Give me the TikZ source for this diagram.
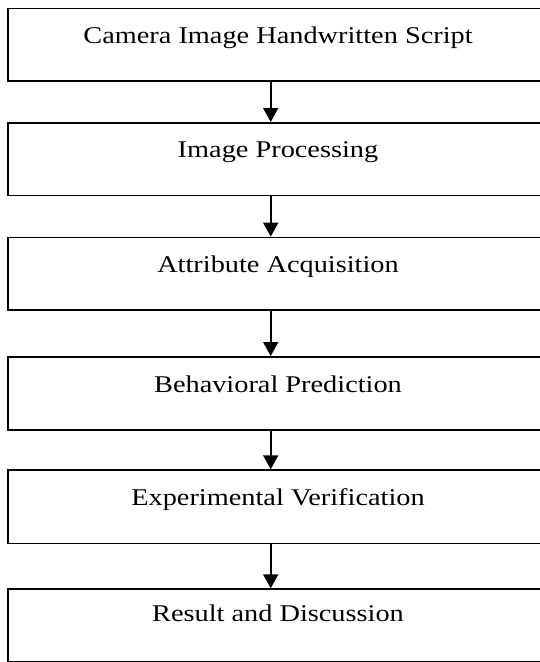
\documentclass[tikz,border=0pt]{standalone}
\usepackage{fontspec}
\setmainfont[FakeStretch=1.18]{Liberation Serif}
\usetikzlibrary{arrows.meta}
\begin{document}
\begin{tikzpicture}[x=1pt,y=-1pt,
  boxst/.style={draw=black,line width=1.7pt,rectangle,inner sep=0pt,anchor=north west,minimum width=539.7pt},
  txt/.style={anchor=base,inner sep=0pt,font=\fontsize{24}{28}\selectfont},
  arr/.style={line width=1.7pt,-{Triangle[width=15pt,length=14pt]}}]
\useasboundingbox (0,0) rectangle (540,662);
\node[boxst,minimum height=72.5pt] (b1) at (7.3,7.5) {};
\node[boxst,minimum height=72.7pt] (b2) at (7.3,122) {};
\node[boxst,minimum height=72.3pt] (b3) at (7.3,236.7) {};
\node[boxst,minimum height=72.9pt] (b4) at (7.3,356) {};
\node[boxst,minimum height=73.4pt] (b5) at (7.3,469.3) {};
\node[boxst,minimum height=72.7pt] (b6) at (7.3,588.3) {};
\node[txt] (t1) at ([yshift=-35.5pt]b1.north) {Camera Image Handwritten Script};
\node[txt] (t2) at ([yshift=-35pt]b2.north) {Image Processing};
\node[txt] (t3) at ([yshift=-35.3pt]b3.north) {Attribute Acquisition};
\node[txt] (t4) at ([yshift=-36pt]b4.north) {Behavioral Prediction};
\node[txt] (t5) at ([yshift=-35.7pt]b5.north) {Experimental Verification};
\node[txt] (t6) at ([yshift=-33.4pt]b6.north) {Result and Discussion};
\coordinate (ax) at (270.7,0);
\draw[arr] (b1.south -| ax) -- (b2.north -| ax);
\draw[arr] (b2.south -| ax) -- (b3.north -| ax);
\draw[arr] (b3.south -| ax) -- (b4.north -| ax);
\draw[arr] (b4.south -| ax) -- (b5.north -| ax);
\draw[arr] (b5.south -| ax) -- (b6.north -| ax);
\end{tikzpicture}
\end{document}
